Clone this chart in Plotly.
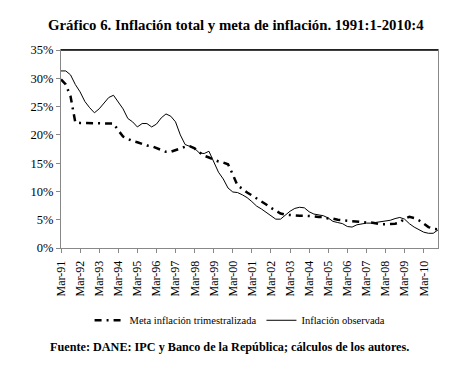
import plotly.graph_objects as go

years = list(range(1991, 2011))
months = ["Mar", "Jun", "Sep", "Dic"]
quarters = [f"{m}-{str(y)[2:]}" for y in years for m in months]
tick_labels = [f"Mar-{str(y)[2:]}" for y in years]

meta = [29.8, 28.9, 26.8, 22.2, 22.1, 22.1, 22.1, 22.1, 22.1, 22.1,
        22.1, 22.0, 20.8, 19.7, 19.3, 18.9, 18.7, 18.4, 18.1, 18.0,
        17.7, 17.3, 17.0, 17.0, 17.3, 17.6, 17.9, 18.0, 17.6, 16.9,
        16.3, 16.0, 15.6, 15.3, 15.1, 14.8, 13.0, 11.0, 10.5, 9.8,
        9.3, 8.8, 8.3, 7.7, 7.1, 6.6, 6.1, 5.9, 5.8, 5.7,
        5.7, 5.7, 5.7, 5.6, 5.5, 5.5, 5.2, 5.2, 5.0, 4.9,
        4.8, 4.8, 4.6, 4.5, 4.5, 4.5, 4.3, 4.2, 4.2, 4.2,
        4.3, 4.5, 5.2, 5.5, 5.3, 4.9, 4.3, 3.7, 3.4, 3.3]

observada = [31.3, 31.3, 30.6, 28.9, 27.6, 25.9, 24.8, 23.9, 24.6, 25.6,
             26.6, 27.0, 25.8, 24.6, 22.9, 22.3, 21.4, 22.0, 22.0, 21.4,
             21.9, 23.0, 23.7, 23.3, 22.3, 20.0, 18.3, 18.0, 17.6, 16.8,
             16.7, 17.1, 15.3, 13.4, 12.2, 10.6, 9.9, 9.8, 9.4, 8.9,
             8.2, 7.4, 6.9, 6.3, 5.7, 5.1, 5.1, 5.8, 6.5, 7.0,
             7.2, 7.1, 6.4, 6.0, 5.9, 5.7, 5.3, 4.7, 4.5, 4.3,
             3.8, 3.7, 4.1, 4.3, 4.4, 4.4, 4.5, 4.6, 4.7, 4.9,
             5.2, 5.4, 5.1, 4.3, 3.7, 3.2, 2.8, 2.6, 2.6, 3.2]

SERIF = "Liberation Serif, Times New Roman, serif"

fig = go.Figure()
fig.add_trace(go.Scatter(
    x=quarters, y=meta, mode="lines", name="Meta inflación trimestralizada",
    line=dict(color="black", width=2.5, dash="7px,5px,2px,5px"),
))
fig.add_trace(go.Scatter(
    x=quarters, y=observada, mode="lines", name="Inflación observada",
    line=dict(color="black", width=1),
))

fig.update_layout(
    width=455, height=367,
    margin=dict(l=53, r=25, t=42, b=127),
    paper_bgcolor="white", plot_bgcolor="white",
    font=dict(family=SERIF, size=11, color="black"),
    showlegend=True,
    legend=dict(orientation="h", x=0.475, xanchor="center", y=-0.365, yanchor="middle",
                font=dict(family=SERIF, size=10.5), itemwidth=30, bgcolor="rgba(0,0,0,0)"),
    xaxis=dict(
        type="category", categoryorder="array", categoryarray=quarters,
        range=[0, len(quarters) - 1],
        tickmode="array", tickvals=tick_labels, ticktext=tick_labels,
        tickangle=-90, ticks="outside", ticklen=4, tickcolor="#888",
        ticklabelstandoff=3,
        showline=True, linecolor="#888", linewidth=1, mirror=True,
        showgrid=False, zeroline=False,
        tickfont=dict(family=SERIF, size=12),
    ),
    yaxis=dict(
        range=[0, 35], dtick=5, ticksuffix="%",
        ticks="outside", ticklen=4, tickcolor="#888",
        showline=True, linecolor="#888", linewidth=1, mirror=True,
        showgrid=False, zeroline=False,
        tickfont=dict(family=SERIF, size=12.5),
    ),
    annotations=[
        dict(text="<b>Gráfico 6. Inflación total y meta de inflación. 1991:1-2010:4</b>",
             xref="paper", yref="paper", x=0.464, y=1.126, xanchor="center", yanchor="middle",
             showarrow=False, font=dict(family=SERIF, size=14.8)),
        dict(text="<b>Fuente: DANE: IPC y Banco de la República; cálculos de los autores.</b>",
             xref="paper", yref="paper", x=0.448, y=-0.5, xanchor="center", yanchor="middle",
             showarrow=False, font=dict(family=SERIF, size=12.2)),
    ],
    shapes=[
        dict(type="line", xref="paper", yref="paper", x0=0, x1=1, y0=1, y1=1,
             line=dict(color="black", width=1.5)),
    ],
)

fig.write_html("out.html")
